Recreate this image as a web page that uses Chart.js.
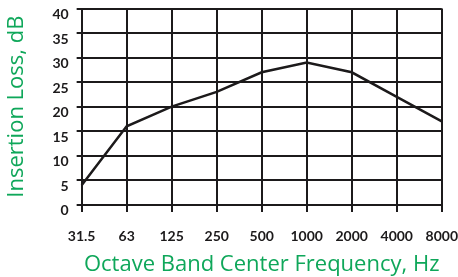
<!DOCTYPE html>
<html>
<head>
<meta charset="utf-8">
<script src="https://cdn.jsdelivr.net/npm/chart.js@4/dist/chart.umd.min.js"></script>
<style>
  html, body { margin: 0; padding: 0; background: #fff; }
  #wrap { width: 458px; height: 277px; }
</style>
</head>
<body>
<div id="wrap"><canvas id="loss-chart"></canvas></div>
<script>
const frequencies = ['31.5', '63', '125', '250', '500', '1000', '2000', '4000', '8000'];
const insertionLoss = [4, 16, 20, 23, 27, 29, 27, 22, 17];
const yTicks = [0, 5, 10, 15, 20, 25, 30, 35, 40];

const green = '#0fa75a';
const ink = '#1c1a1b';

const ctx = document.getElementById('loss-chart').getContext('2d');
const chartLoss = new Chart(ctx, {
    type: 'line',
    data: {
        labels: frequencies,
        datasets: [{
            label: 'Insertion Loss',
            data: insertionLoss,
            borderColor: ink,
            borderWidth: 2.5,
            pointRadius: 0,
            tension: 0,
            fill: false
        }]
    },
    options: {
        responsive: true,
        maintainAspectRatio: false,
        animation: false,
        layout: { padding: { left: 4, right: 0, top: 8.5, bottom: 0 } },
        plugins: {
            legend: { display: false },
            tooltip: { enabled: false }
        },
        scales: {
            x: {
                offset: false,
                // long tick, only the first 6px drawn, so the labels sit lower
                grid: { color: ink, lineWidth: 2, tickLength: 23, tickBorderDash: [6, 60] },
                border: { color: ink, width: 2 },
                ticks: {
                    color: ink,
                    padding: 0,
                    maxRotation: 0,
                    font: { family: 'Lato', size: 14, weight: 'bold' }
                },
                title: {
                    display: true,
                    text: 'Octave Band Center Frequency, Hz',
                    color: green,
                    padding: { top: 7, bottom: -1 },
                    font: { family: 'Open Sans', size: 22 }
                }
            },
            y: {
                min: 0,
                max: 40,
                afterBuildTicks: axis => { axis.ticks = yTicks.map(v => ({ value: v })); },
                // same trick: only the last 5px next to the axis are drawn
                grid: { color: ink, lineWidth: 2, tickLength: 13, tickBorderDash: [5, 100], tickBorderDashOffset: 97 },
                border: { color: ink, width: 2 },
                ticks: {
                    color: ink,
                    padding: 0,
                    labelOffset: 6,
                    font: { family: 'Lato', size: 14, weight: 'bold' }
                },
                title: {
                    display: true,
                    text: 'Insertion Loss, dB',
                    color: green,
                    padding: { top: 0, bottom: 22 },
                    font: { family: 'Open Sans', size: 22 }
                }
            }
        }
    }
});
</script>
</body>
</html>
